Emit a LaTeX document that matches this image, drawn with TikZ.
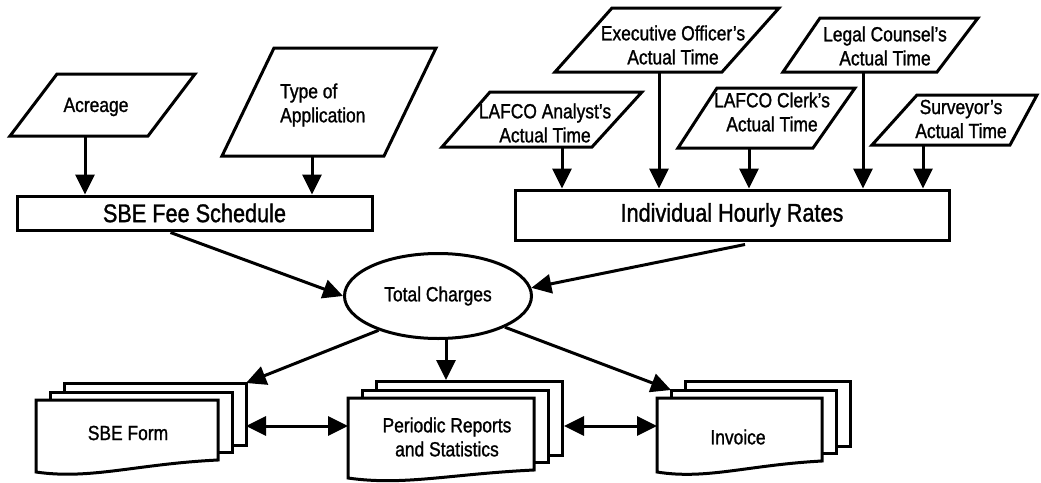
\documentclass[tikz,border=0pt]{standalone}
\usepackage{fontspec}
\setmainfont{Liberation Sans}[FakeStretch=0.85,FakeBold=1.2]
\usetikzlibrary{arrows.meta,shapes.geometric,calc}

\newcommand\smalltxt{\fontsize{20.5}{24}\selectfont}
\newcommand\bigtxt{\fontsize{25.5}{28}\selectfont}

% parallelogram: TLx TRx topy BLx BRx boty
\newcommand\parabox[6]{\draw[ln,fill=white] (#1,#3) -- (#2,#3) -- (#5,#6) -- (#4,#6) -- cycle;}
% document stack: name L T R Bl Br
\newcommand\docstack[6]{%
  \draw[ln,fill=white] (#2+28,#3-17) coordinate (#1-b-nw) -- (#4+28,#3-17) coordinate (#1-b-ne) -- (#4+28,#6-15) -- (#2+28,#6-15) -- cycle;
  \draw[ln,fill=white] (#2+14,#3-8) coordinate (#1-m-nw) -- (#4+14,#3-8) -- (#4+14,#6-8) -- (#2+14,#6-8) -- cycle;
  \draw[ln,fill=white] (#2,#3) coordinate (#1-f-nw) -- (#4,#3) -- (#4,#6)
     .. controls ({#2+0.55*(#4-#2)},{#6+4}) and ({#2+0.3*(#4-#2)},{#5+8}) .. (#2,#5) -- cycle;
}

\tikzset{
  ln/.style={line width=3pt, line join=miter},
  arr/.style={ln, -{Triangle[length=20pt,width=19pt]}},
  dblarr/.style={ln, {Triangle[length=20pt,width=19pt]}-{Triangle[length=20pt,width=19pt]}},
  txt/.style={font=\smalltxt, align=center, inner sep=0pt},
  bigbox/.style={ln, draw, fill=white, inner sep=0pt, font=\bigtxt},
}

\begin{document}
\begin{tikzpicture}[x=1pt,y=-1pt]
\useasboundingbox (0,0) rectangle (1041,482);
\fill[white] (0,0) rectangle (1041,482);

% input parallelograms
\parabox{57}{195}{74}{10}{148}{136}
\parabox{274}{436}{48}{222}{384}{156}
\parabox{490}{642}{92}{442}{592}{147}
\parabox{612}{779}{8}{555}{722}{72}
\parabox{820}{978}{18}{783}{937}{72}
\parabox{717}{855}{88}{678}{813}{148}
\parabox{917}{1037}{95}{872}{1010}{145}

\node[txt] (acr) at (96,107) {Acreage};
\node[txt,align=left,anchor=west] (typ) at (280,105) {Type of\\Application};
\node[txt] (ana) at (545,123) {LAFCO Analyst's\\Actual Time};
\node[txt] (exe) at (673,45) {Executive Officer's\\Actual Time};
\node[txt] (clk) at (772,112) {LAFCO Clerk's\\Actual Time};
\node[txt] (leg) at (885,46) {Legal Counsel's\\Actual Time};
\node[txt] (sur) at (961,119) {Surveyor's\\Actual Time};

% process boxes
\node[bigbox, minimum width=355pt, minimum height=34pt] (fee) at (194.5,213) {SBE Fee Schedule};
\node[bigbox, minimum width=434pt, minimum height=50pt] (rates) at (732,215) {Individual Hourly Rates};
\node[ellipse, draw, ln, fill=white, minimum width=187pt, minimum height=85pt, inner sep=0pt, font=\smalltxt] (total) at (438,296) {Total Charges};

% arrow start points
\coordinate (acr-o) at (85,136);
\coordinate (typ-o) at (312,156);
\coordinate (ana-o) at (562,147);
\coordinate (exe-o) at (659,72);
\coordinate (clk-o) at (749,148);
\coordinate (leg-o) at (863,72);
\coordinate (sur-o) at (923,145);

\draw[arr] (acr-o) -- (acr-o |- fee.north);
\draw[arr] (typ-o) -- (typ-o |- fee.north);
\draw[arr] (ana-o) -- (ana-o |- rates.north);
\draw[arr] (exe-o) -- (exe-o |- rates.north);
\draw[arr] (clk-o) -- (clk-o |- rates.north);
\draw[arr] (leg-o) -- (leg-o |- rates.north);
\draw[arr] (sur-o) -- (sur-o |- rates.north);

% documents
\docstack{sbe}{36}{400}{218}{472}{460}
\docstack{per}{348}{398}{534}{478}{470}
\docstack{inv}{657}{398}{822}{472}{461}

\node[txt] (sbeform) at (128,433) {SBE Form};
\node[txt] (periodic) at (447,437) {Periodic Reports\\and Statistics};
\node[txt] (invoice) at (738,437) {Invoice};

% connectors into / out of Total Charges
\draw[arr] ($(fee.south)+(-24,1)$) -- (total.west);
\draw[arr] ($(rates.south)+(13,3)$) -- (total.5);
\coordinate (per-in) at (446,380);
\draw[arr] (total.210) -- (sbe-b-ne);
\draw[arr] (total.south -| per-in) -- (per-in);
\draw[arr] (total.335) -- (inv-m-nw);

\coordinate (row) at (0,426);
\draw[dblarr] (sbe-b-ne |- row) -- (per-f-nw |- row);
\draw[dblarr] ($(per-b-ne |- row)+(2,0)$) -- (inv-f-nw |- row);
\end{tikzpicture}
\end{document}
